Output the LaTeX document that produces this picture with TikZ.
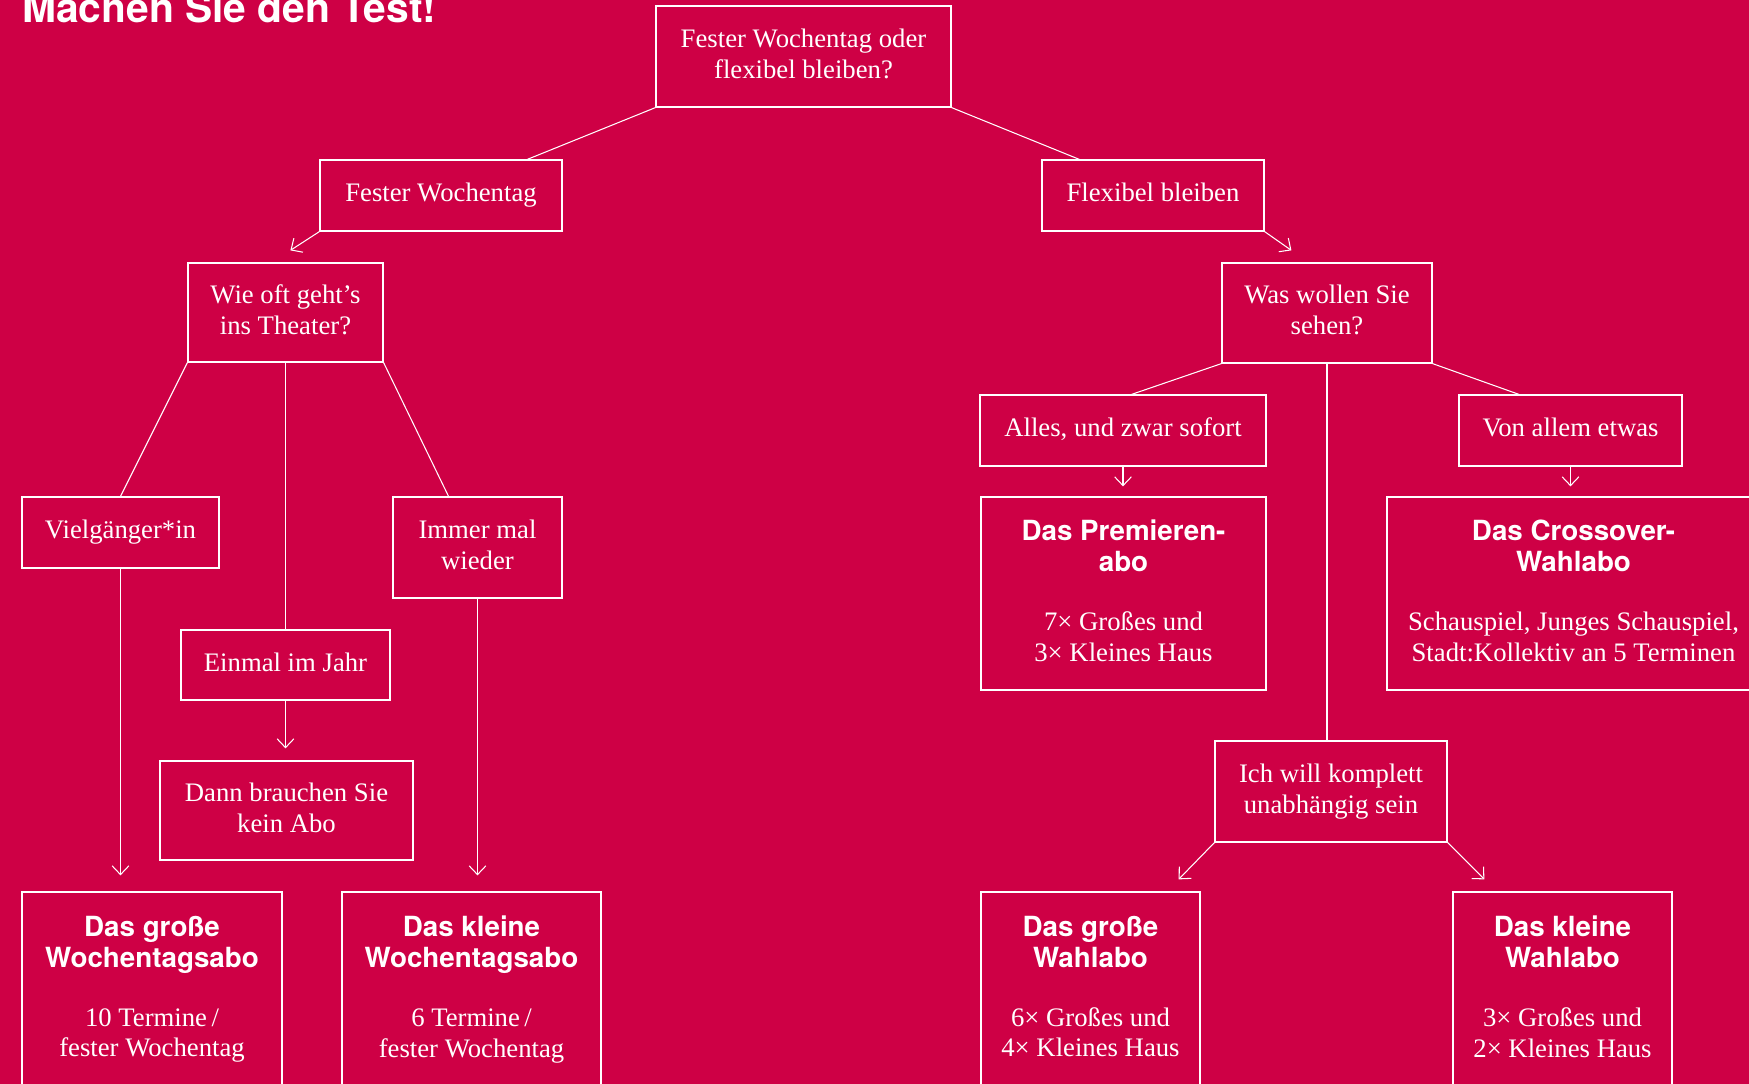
\documentclass[tikz,border=0pt]{standalone}
\usepackage{fontspec}
\setmainfont{Liberation Serif}
\setsansfont{TeX Gyre Heros}
\usepackage{tikz}
\usetikzlibrary{arrows.meta, calc}

\definecolor{theaterrot}{RGB}{206,0,69}
\newlength\pxu
\setlength\pxu{0.02cm}
\newcommand\abohead[1]{{\sffamily\bfseries\fontsize{15.8}{17.6}\selectfont #1}}

\begin{document}
\begin{tikzpicture}[
  x=0.02cm, y=-0.02cm,
  box/.style = {
    rectangle, draw=white, line width=0.7pt,
    text=white, align=center, inner sep=0pt,
    text depth=3.5pt,
    font=\fontsize{15.2}{17.6}\selectfont
  },
  sz/.style 2 args = {minimum width=#1\pxu, minimum height=#2\pxu},
  link/.style = {white, line width=0.6pt},
  arr/.style = {-{Straight Barb[length=5pt, width=9.5pt]}, white, line width=0.6pt},
  titel/.style = {
    text=white, inner sep=0pt,
    font=\sffamily\bfseries\fontsize{23.2}{27}\selectfont
  }
]
\useasboundingbox (0,0) rectangle (1749,1084);
\clip (0,0) rectangle (1749,1084);
\fill[theaterrot] (0,0) rectangle (1749,1084);

\node[titel, anchor=base west] (titel) at (22,23) {Machen Sie den Test!};

% Question on top
\node[box, sz={295}{101}] (start) at (803.5,56.5) {Fester Wochentag oder\\flexibel bleiben?};
\node[box, sz={242}{71}]  (fest)  at (441,195.5)  {Fester Wochentag};
\node[box, sz={222}{71}]  (flex)  at (1153,195.5) {Flexibel bleiben};

% Left branch: fixed weekday
\node[box, sz={195}{99}]  (wieoft)  at (285.5,312.5) {Wie oft geht’s\\ins Theater?};
\node[box, sz={197}{71}]  (viel)    at (120.5,532.5) {Vielgänger*in};
\node[box, sz={169}{101}] (immer)   at (477.5,547.5) {Immer mal\\wieder};
\node[box, sz={209}{70}]  (einmal)  at (285.5,665)   {Einmal im Jahr};
\node[box, sz={253}{99}]  (keinabo) at (286.5,810.5) {Dann brauchen Sie\\kein Abo};
\node[box, sz={260}{195}] (grossW)  at (152,989.5)
  {\abohead{Das große}\\\abohead{Wochentagsabo}\\[16pt]10 Termine\,/\\fester Wochentag};
\node[box, sz={259}{195}] (kleinW)  at (471.5,989.5)
  {\abohead{Das kleine}\\\abohead{Wochentagsabo}\\[16pt]6 Termine\,/\\fester Wochentag};

% Right branch: flexible
\node[box, sz={210}{100}] (was)       at (1327,313)    {Was wollen Sie\\sehen?};
\node[box, sz={286}{71}]  (alles)     at (1123,430.5)  {Alles, und zwar sofort};
\node[box, sz={223}{71}]  (vonallem)  at (1570.5,430.5) {Von allem etwas};
\node[box, sz={285}{193}] (premieren) at (1123.5,593.5)
  {\abohead{Das Premieren-}\\\abohead{abo}\\[16pt]7× Großes und\\3× Kleines Haus};
\node[box, sz={373}{193}] (crossover) at (1573.5,593.5)
  {\abohead{Das Crossover-}\\\abohead{Wahlabo}\\[16pt]Schauspiel, Junges Schauspiel,\\Stadt:Kollektiv an 5 Terminen};
\node[box, sz={232}{101}] (ichwill)   at (1331,791.5)  {Ich will komplett\\unabhängig sein};
\node[box, sz={219}{195}] (grossWahl) at (1090.5,989.5)
  {\abohead{Das große}\\\abohead{Wahlabo}\\[16pt]6× Großes und\\4× Kleines Haus};
\node[box, sz={219}{195}] (kleinWahl) at (1562.5,989.5)
  {\abohead{Das kleine}\\\abohead{Wahlabo}\\[16pt]3× Großes und\\2× Kleines Haus};

% Connectors from the top
\draw[link] (start.south west) -- ($(fest.north west)!0.855!(fest.north east)$);
\draw[link] (start.south east) -- ($(flex.north west)!0.17!(flex.north east)$);
\draw[arr] (fest.south west) -- ($(wieoft.north west)+(103,-12)$);
\draw[arr] (flex.south east) -- ($(was.north west)+(70,-12)$);

% Left branch connectors
\draw[link] (wieoft.south west) -- (viel.north);
\draw[link] (wieoft.south) -- (einmal.north);
\draw[link] (wieoft.south east) -- ($(immer.north west)!0.33!(immer.north east)$);
\draw[arr] (viel.south) -- ($(viel.south |- grossW.north)+(0,-16)$);
\draw[arr] (immer.south) -- ($(immer.south |- kleinW.north)+(0,-16)$);
\draw[arr] (einmal.south) -- ($(einmal.south |- keinabo.north)+(0,-12)$);

% Right branch connectors
\draw[link] (was.south west) -- ($(alles.north west)!0.53!(alles.north east)$);
\draw[link] (was.south) -- (was.south |- ichwill.north);
\draw[link] (was.south east) -- ($(vonallem.north west)!0.27!(vonallem.north east)$);
\draw[arr] (alles.south) -- ($(alles.south |- premieren.north)+(0,-10)$);
\draw[arr] (vonallem.south) -- ($(vonallem.south |- crossover.north)+(0,-10)$);
\draw[arr] (ichwill.south west) -- ($(grossWahl.north east)+(-22,-12)$);
\draw[arr] (ichwill.south east) -- ($(kleinWahl.north west)+(32,-12)$);
\end{tikzpicture}
\end{document}
